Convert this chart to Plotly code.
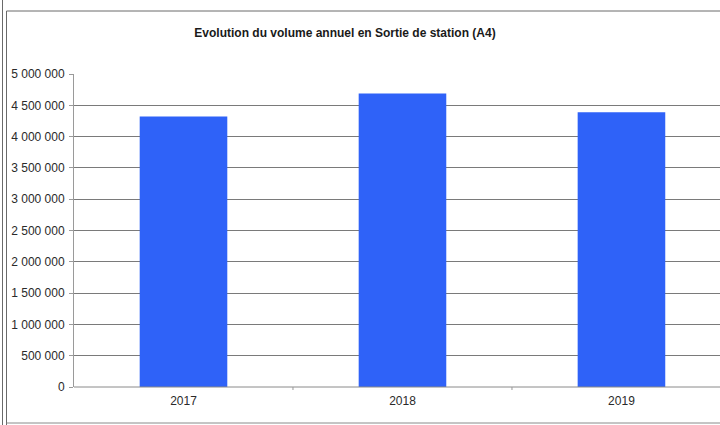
import plotly.graph_objects as go

years = ["2017", "2018", "2019"]
volumes = [4320000, 4690000, 4390000]
y_ticks = [0, 500000, 1000000, 1500000, 2000000, 2500000, 3000000, 3500000, 4000000, 4500000, 5000000]
title_text = "Evolution du volume annuel en Sortie de station (A4)"

fig = go.Figure()
fig.add_trace(go.Bar(
    x=years, y=volumes, width=0.40,
    marker=dict(color="#2f62f8", line=dict(width=0)),
))

L, T, W, H = 74, 74, 720, 425
plot_w = W - L
plot_h = 387 - T

def px(x):
    return (x - L) / plot_w

def py(y):
    return (387 - y) / plot_h

fig.update_layout(
    width=W, height=H,
    margin=dict(l=L, r=0, t=T, b=H - 387),
    paper_bgcolor="white", plot_bgcolor="white",
    separators=", ",
    showlegend=False,
    font=dict(family="Liberation Sans, Arial", size=12, color="#2a2a2a"),
    title=dict(text="<b>" + title_text + "</b>", xref="container", yref="container",
               x=345 / W, y=1 - 33 / H, xanchor="center", yanchor="middle",
               font=dict(size=12, color="#1a1a1a")),
    xaxis=dict(type="category", range=[-0.5, 2.45], showgrid=False,
               showline=False, ticks="", tickfont=dict(size=12, color="#2a2a2a"),
               ticklabelstandoff=5),
    yaxis=dict(range=[0, 5000000], tickvals=y_ticks, tickformat=",d",
               showgrid=True, gridcolor="#7a7a7a", gridwidth=1,
               showline=True, linecolor="#9a9a9a", linewidth=1,
               ticks="outside", ticklen=4, tickcolor="#9a9a9a",
               ticklabelstandoff=2,
               tickfont=dict(size=12, color="#2a2a2a"), zeroline=False),
    bargap=0.6,
    shapes=[
        # baseline
        dict(type="line", xref="paper", yref="paper", x0=0, x1=1.05, y0=0, y1=0,
             line=dict(color="#8a8a8a", width=1)),
        # outer frame
        dict(type="line", xref="paper", yref="paper", x0=px(6.5), x1=1.05, y0=py(11), y1=py(11),
             line=dict(color="#6a6a6a", width=1)),
        dict(type="line", xref="paper", yref="paper", x0=px(6.5), x1=px(6.5), y0=py(11), y1=py(430),
             line=dict(color="#6a6a6a", width=1)),
        dict(type="line", xref="paper", yref="paper", x0=px(2.5), x1=px(2.5), y0=py(0), y1=py(430),
             line=dict(color="#6a6a6a", width=1)),
        dict(type="line", xref="paper", yref="paper", x0=px(6.5), x1=1.05, y0=py(423), y1=py(423),
             line=dict(color="#8a8a8a", width=1)),
        # small category separators on axis
        dict(type="line", xref="x", yref="paper", x0=0.5, x1=0.5, y0=0, y1=py(390),
             line=dict(color="#9a9a9a", width=1)),
        dict(type="line", xref="x", yref="paper", x0=1.5, x1=1.5, y0=0, y1=py(390),
             line=dict(color="#9a9a9a", width=1)),
    ],
)

fig.write_html("out.html", config={"displayModeBar": False},
               post_script="document.body.style.margin='0';document.body.style.overflow='hidden';")
